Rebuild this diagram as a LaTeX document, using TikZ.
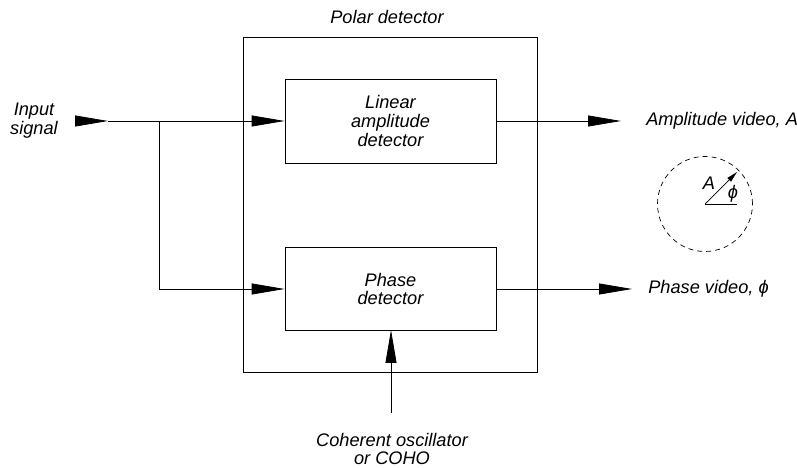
\documentclass[tikz,border=0pt]{standalone}
\usepackage{fontspec}
\setmainfont{Liberation Sans}
\usepackage{tikz}
\usetikzlibrary{arrows.meta}

\tikzset{
    blk/.style={draw, line width=0.8pt, align=center},
    lbl/.style={align=center, font=\itshape},
    sig/.style={line width=0.8pt, -{Triangle[length=33pt, width=11pt]}}
}

\begin{document}
\fontsize{18.2}{18.8}\selectfont
\begin{tikzpicture}[x=1pt, y=1pt]
    \useasboundingbox (0,0) rectangle (797,468);
    % Polar detector
    \node[blk, minimum width=294pt, minimum height=335pt] (polar) at (390,263.5) {};
    \node[lbl] (polarlbl) at (387,451) {Polar detector};
    \node[blk, lbl, minimum width=211pt, minimum height=84pt] (lin) at (390.5,347) {Linear\\amplitude\\detector};
    \node[blk, lbl, minimum width=211pt, minimum height=83pt] (phase) at (390.5,179) {Phase\\detector};

    % Input
    \node[lbl] (in) at (34,347) {Input\\signal};
    \coordinate (intail) at (75,347);
    \coordinate (inhead) at (108,347);
    \coordinate (split) at (159,347);
    \coordinate (corner) at (159,179);
    \draw[sig] (intail) -- (inhead);
    \draw[sig] (inhead) -- (lin.west);
    \draw[line width=0.8pt] (split) -- (corner);
    \draw[sig] (corner) -- (phase.west);

    % Outputs
    \node[lbl, anchor=west] (amp) at (640,347) {Amplitude video, A};
    \node[lbl, anchor=west] (ph) at (642,179) {Phase video, ϕ};
    \draw[sig] (lin.east) -- (621,347);
    \draw[sig] (phase.east) -- (632,179);

    % COHO
    \node[lbl] (coho) at (392,19) {Coherent oscillator\\or COHO};
    \coordinate (cohotop) at (391,55);
    \draw[sig] (cohotop) -- (391,138);

    % Phasor
    \coordinate (o) at (705,264);
    \draw[dashed, dash pattern=on 5pt off 4pt, line width=0.7pt] (o) circle (47.5);
    \draw[line width=0.7pt, -{Triangle[length=11pt, width=5pt]}] (o) -- (737,296);
    \draw[line width=0.8pt] (o) -- (737,264);
    \node[lbl] (alab) at (709,285) {A};
    \node[lbl] (philab) at (733,274) {ϕ};
\end{tikzpicture}
\end{document}
